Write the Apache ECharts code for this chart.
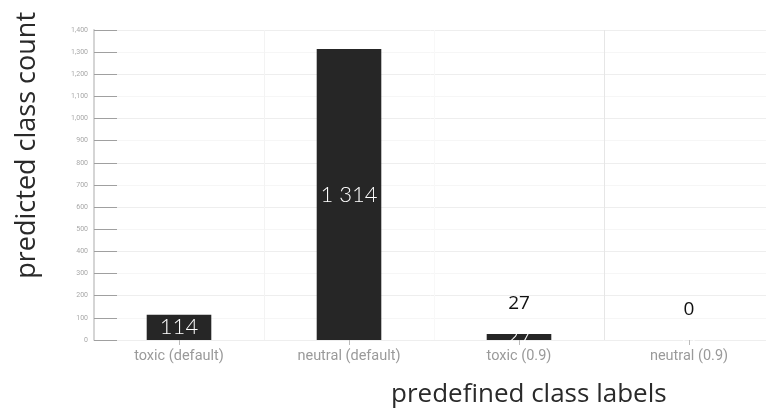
<!DOCTYPE html>
<html>
<head>
<meta charset="utf-8">
<script src="https://cdn.jsdelivr.net/npm/echarts@6/dist/echarts.min.js"></script>
<style>html,body{margin:0;padding:0;background:#fff;}#c{width:766px;height:411px;}</style>
</head>
<body>
<div id="c"></div>
<script>
var categories = ['toxic (default)', 'neutral (default)', 'toxic (0.9)', 'neutral (0.9)'];
var counts = [114, 1314, 27, 0];
var annotations = [null, null, 27, 0];
var yMin = 0, yMax = 1400, yStep = 100;
var xTitle = 'predefined class labels';
var yTitle = 'predicted class count';

function spaced(v) {
  return String(v).replace(/\B(?=(\d{3})+(?!\d))/g, ' ');
}

var chart = echarts.init(document.getElementById('c'), null, {renderer: 'canvas'});
chart.setOption({
  animation: false,
  backgroundColor: '#ffffff',
  grid: {left: 94, width: 680, top: 30, bottom: 71, containLabel: false, outerBoundsMode: 'none'},
  title: [
    {text: xTitle, left: 386, top: 377,
     textStyle: {fontFamily: 'Open Sans', fontSize: 26, fontWeight: 'normal', color: '#2a2a2a'}}
  ],
  graphic: [
    {type: 'text', left: 14, top: 12, rotation: Math.PI / 2,
     style: {text: yTitle, font: '27px "Open Sans"', fill: '#2a2a2a'}}
  ],
  xAxis: {
    type: 'category',
    data: categories,
    axisLine: {show: true, lineStyle: {color: '#eeeeee', width: 1}},
    axisTick: {show: true, alignWithLabel: true, length: 5, lineStyle: {color: '#bbbbbb'}},
    axisLabel: {color: '#9a9a9a', fontFamily: 'Roboto', fontSize: 14.5, margin: 9},
    splitLine: {show: true, lineStyle: {color: ['#f3f3f3', '#f3f3f3', '#f8f8f8', '#e6e6e6', '#f3f3f3'], width: 1}}
  },
  yAxis: [{
    type: 'value',
    min: yMin, max: yMax, interval: yStep,
    axisLine: {show: true, lineStyle: {color: '#d5d5d5', width: 2}},
    axisTick: {show: true, inside: true, length: 23, lineStyle: {color: '#a0a0a0', width: 1}},
    axisLabel: {color: '#a8a8a8', fontFamily: 'Roboto', fontSize: 7, margin: 6},
    splitLine: {show: true, lineStyle: {color: ['#eeeeee', '#f6f6f6'], width: 1}}
  }],
  series: [
    {
      type: 'bar',
      data: counts,
      barWidth: '38%',
      itemStyle: {color: '#262626'},
      label: {
        show: true, position: 'inside', color: '#ffffff',
        fontFamily: 'Lato', fontWeight: 300, fontSize: 22,
        formatter: function (p) { return spaced(p.value); }
      },
      z: 3
    },
    {
      type: 'bar',
      data: annotations,
      barWidth: '38%',
      barGap: '-100%',
      itemStyle: {color: 'rgba(0,0,0,0)'},
      label: {
        show: true, position: 'top', distance: 21, color: '#111111',
        fontFamily: 'Open Sans', fontSize: 19,
        formatter: function (p) { return String(p.value); }
      },
      z: 4
    }
  ]
});
</script>
</body>
</html>
